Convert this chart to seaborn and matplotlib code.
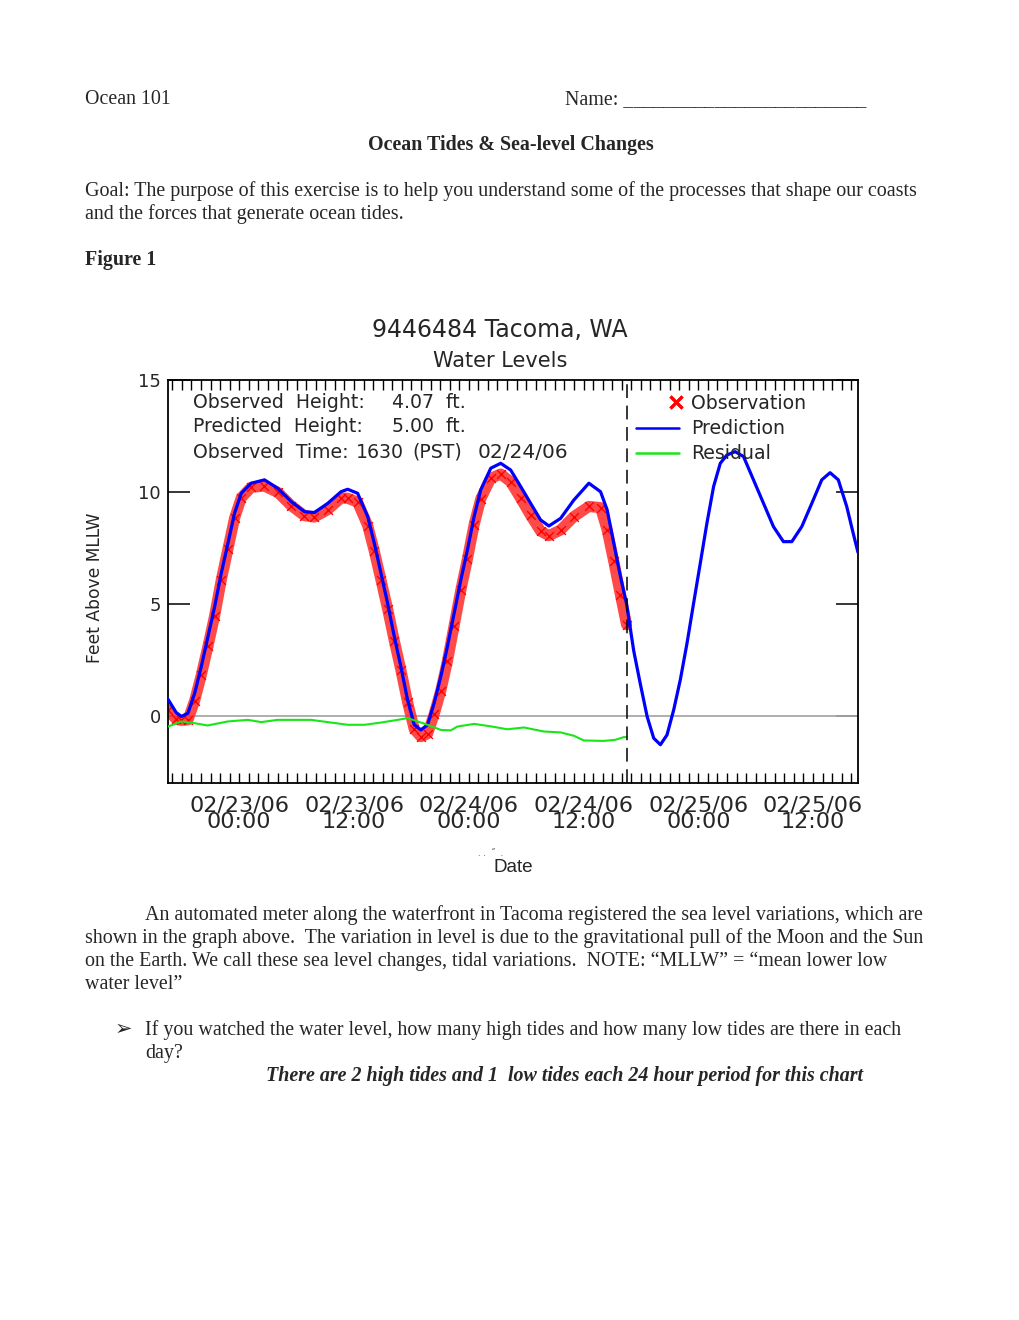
import matplotlib.pyplot as plt
from matplotlib.lines import Line2D
from matplotlib.legend_handler import HandlerLine2D
import seaborn as sns

# hours since 02/23/06 00:00 (PST), feet above MLLW
pred_hours = [-7.45, -6.6, -6.05, -5.36, -4.66, -3.97, -3.27, -2.57, -1.88, -1.18,
              -0.49, 0.21, 1.25, 2.64, 4.04, 5.43, 6.82, 7.86, 9.25, 10.64,
              11.34, 12.38, 13.43, 14.12, 14.82, 15.51, 16.21, 16.9, 17.6, 18.3,
              18.99, 19.69, 20.38, 21.08, 21.77, 22.47, 23.17, 23.86, 24.56, 25.25,
              26.3, 27.34, 28.38, 29.43, 30.47, 31.51, 32.38, 33.6, 34.99, 36.56,
              37.78, 38.47, 39.16, 39.86, 40.5, 41.25, 41.95, 42.65, 43.34, 44.04,
              44.73, 45.43, 46.12, 46.82, 47.51, 48.21, 48.9, 49.6, 50.3, 50.99,
              51.86, 52.73, 53.77, 54.82, 55.86, 56.9, 57.78, 58.82, 59.87, 60.91,
              61.78, 62.64, 63.52, 64.2, 64.7]
pred_ft = [0.74, 0.15, -0.03, 0.12, 1.01, 2.2, 3.54, 4.88, 6.37, 7.71,
           9.05, 9.94, 10.39, 10.54, 10.16, 9.57, 9.12, 9.08, 9.49, 10.01,
           10.12, 9.94, 8.9, 7.71, 6.37, 5.03, 3.54, 2.2, 0.71, -0.4,
           -0.63, -0.4, 0.57, 1.76, 3.1, 4.58, 6.07, 7.41, 8.9, 10.09,
           11.06, 11.28, 10.98, 10.24, 9.49, 8.75, 8.48, 8.82, 9.64, 10.39,
           10.01, 9.2, 7.71, 6.22, 5.0, 2.9, 1.4, -0.03, -1.0, -1.29,
           -0.85, 0.27, 1.61, 3.24, 5.03, 6.82, 8.6, 10.24, 11.28, 11.65,
           11.8, 11.58, 10.54, 9.49, 8.45, 7.78, 7.78, 8.45, 9.49, 10.54,
           10.86, 10.54, 9.35, 8.15, 7.3]

obs_hours = [-7.45, -6.6, -6.05, -5.36, -4.66, -3.97, -3.27, -2.57, -1.88, -1.18,
             -0.49, 0.21, 1.25, 2.64, 4.04, 5.43, 6.82, 7.86, 9.25, 10.64,
             11.34, 12.38, 13.43, 14.12, 14.82, 15.51, 16.21, 16.9, 17.6, 18.3,
             18.99, 19.69, 20.38, 21.08, 21.77, 22.47, 23.17, 23.86, 24.56, 25.25,
             26.3, 27.34, 28.38, 29.43, 30.47, 31.51, 32.38, 33.6, 34.99, 36.56,
             37.78, 38.47, 39.16, 39.86, 40.5]
obs_ft = [0.26, -0.15, -0.2, -0.18, 0.68, 1.82, 3.11, 4.48, 6.07, 7.46,
          8.83, 9.74, 10.21, 10.26, 9.98, 9.39, 8.94, 8.88, 9.21, 9.73,
          9.72, 9.54, 8.5, 7.36, 6.07, 4.78, 3.36, 2.05, 0.61, -0.6,
          -0.93, -0.8, 0.07, 1.13, 2.45, 4.03, 5.62, 7.01, 8.54, 9.69,
          10.61, 10.8, 10.45, 9.71, 8.95, 8.25, 8.05, 8.3, 8.9, 9.35,
          9.3, 8.3, 6.9, 5.4, 4.07]

resid_hours = [-7.45, -6.05, -4.66, -3.3, -1.18, 0.9, 2.3, 4.0, 7.5, 9.25,
               11.34, 13.1, 14.82, 16.56, 17.6, 18.65, 19.69, 21.08, 22.12, 22.8,
               24.56, 26.3, 28.04, 29.77, 31.86, 33.6, 34.99, 36.03, 38.12, 39.34,
               40.21, 40.5]
resid_ft = [-0.48, -0.25, -0.33, -0.43, -0.25, -0.18, -0.28, -0.18, -0.18, -0.28,
            -0.4, -0.4, -0.3, -0.18, -0.1, -0.25, -0.4, -0.63, -0.65, -0.48,
            -0.36, -0.47, -0.6, -0.52, -0.7, -0.74, -0.89, -1.1, -1.12, -1.07,
            -0.95, -0.95]

obs_time = 40.5
date_ticks = [0, 12, 24, 36, 48, 60]
date_labels = ["02/23/06\n00:00", "02/23/06\n12:00", "02/24/06\n00:00",
               "02/24/06\n12:00", "02/25/06\n00:00", "02/25/06\n12:00"]

W, H = 1020, 1320


def px(x, y):
    # pixel position on the page -> figure fraction
    return x / W, 1 - y / H


class MarkerAtEnd(HandlerLine2D):
    # legend marker sits at the right end of the handle, like the original
    def get_xdata(self, legend, xdescent, ydescent, width, height, fontsize):
        x_end = width - xdescent - 0.2 * fontsize
        return [x_end, x_end], [x_end, x_end]


sns.set_style("white")
plt.rcParams['font.family'] = ['DejaVu Sans']

fig = plt.figure(figsize=(10.2, 13.2), dpi=100)
fig.patch.set_facecolor('white')

# ---------- page text ----------
serif = ['Liberation Serif', 'DejaVu Serif']
fs_doc = 14.4
fig.text(*px(85, 104), "Ocean 101", family=serif, size=fs_doc, va='baseline')
fig.text(*px(565, 104), "Name: " + "_" * 24, family=serif, size=fs_doc, va='baseline')
fig.text(*px(511, 150), "Ocean Tides & Sea-level Changes", family=serif, size=fs_doc,
         weight='bold', ha='center', va='baseline')
fig.text(*px(85, 196), "Goal: The purpose of this exercise is to help you understand some of "
         "the processes that shape our coasts", family=serif, size=fs_doc, va='baseline')
fig.text(*px(85, 219), "and the forces that generate ocean tides.", family=serif,
         size=fs_doc, va='baseline')
fig.text(*px(85, 265), "Figure 1", family=serif, size=fs_doc, weight='bold', va='baseline')

para = [
    (145, "An automated meter along the waterfront in Tacoma registered the sea level variations, which are"),
    (85, "shown in the graph above.  The variation in level is due to the gravitational pull of the Moon and the Sun"),
    (85, "on the Earth. We call these sea level changes, tidal variations.  NOTE: \u201cMLLW\u201d = \u201cmean lower low"),
    (85, "water level\u201d"),
]
for i, (x0, line) in enumerate(para):
    fig.text(*px(x0, 920 + 23 * i), line, family=serif, size=fs_doc, va='baseline')

fig.text(*px(115, 1035), "\u27a2", family=['DejaVu Sans'], size=15, va='baseline')
fig.text(*px(145, 1035), "If you watched the water level, how many high tides and how many "
         "low tides are there in each", family=serif, size=fs_doc, va='baseline')
fig.text(*px(145, 1058), "day?", family=serif, size=fs_doc, va='baseline')
fig.text(*px(266, 1081), "There are 2 high tides and 1  low tides each 24 hour period for this chart",
         family=serif, size=fs_doc, weight='bold', style='italic', va='baseline')

# ---------- chart ----------
ax_l, ax_r, ax_t, ax_b = 168, 858, 380, 783
ax = fig.add_axes([ax_l / W, 1 - ax_b / H, (ax_r - ax_l) / W, (ax_b - ax_t) / H])

ax.axhline(0, color='#a8a8a8', linewidth=1.3, zorder=1)
ax.axvline(obs_time, color='black', linewidth=1.1, dashes=(9, 5), zorder=5)

sns.lineplot(x=obs_hours, y=obs_ft, ax=ax, color='#ff2a2a', linewidth=8,
             alpha=0.85, zorder=2)
sns.scatterplot(x=obs_hours, y=obs_ft, ax=ax, color='#ff0000', marker='x', s=40,
                linewidth=1.0, zorder=2)
sns.lineplot(x=pred_hours, y=pred_ft, ax=ax, color='#0000ff', linewidth=2.3, zorder=3)
sns.lineplot(x=resid_hours, y=resid_ft, ax=ax, color='#19e619', linewidth=1.5, zorder=4)

ax.set_xlim(-7.45, 64.7)
ax.set_ylim(-3, 15)
ax.set_xlabel("")
ax.set_ylabel("")

ax.set_xticks(date_ticks)
ax.set_xticklabels(date_labels, fontsize=16, linespacing=0.8)
ax.set_xticks(range(-7, 65), minor=True)
ax.set_yticks([0, 5, 10, 15])
ax.set_yticklabels(["0", "5", "10", "15"], fontsize=13)
ax.tick_params(axis='x', which='both', direction='in', top=True, bottom=True,
               length=7, width=1.0, pad=9, color='black')
ax.tick_params(axis='y', which='major', direction='in', left=True, right=True,
               length=16, width=1.1, pad=5, color='black')
for sp in ax.spines.values():
    sp.set_color('black')
    sp.set_linewidth(1.3)

fig.text(*px(500, 330), "9446484 Tacoma, WA", size=17, ha='center', va='center')
fig.text(*px(500, 361), "Water Levels", size=15, ha='center', va='center')
fig.text(*px(95, 588), "Feet Above MLLW", size=12.3, rotation=90, ha='center', va='center')
fig.text(*px(491, 853), ". .  \u02dd  .", size=6, ha='center', va='center', color='#333333')
fig.text(*px(513, 867), "Date", family=['Liberation Sans'], size=13.6,
         ha='center', va='center')

fs_info = 13.6
fig.text(*px(193, 402), "Observed  Height:", size=fs_info, va='center')
fig.text(*px(392, 402), "4.07  ft.", size=fs_info, va='center')
fig.text(*px(193, 427), "Predicted  Height:", size=fs_info, va='center')
fig.text(*px(392, 427), "5.00  ft.", size=fs_info, va='center')
fig.text(*px(193, 452), "Observed  Time:", size=fs_info, va='center')
fig.text(*px(356, 452), "1630", size=fs_info, va='center')
fig.text(*px(412, 452), "(PST)", size=fs_info, va='center')
fig.text(*px(478, 452), "02/24/06", size=14.5, va='center')

handles = [
    Line2D([], [], color='red', marker='x', linestyle='none', markersize=9,
           markeredgewidth=2.2),
    Line2D([], [], color='#0000ff', linewidth=1.8),
    Line2D([], [], color='#19e619', linewidth=1.8),
]
ax.legend(handles, ["Observation", "Prediction", "Residual"], loc='upper left',
          bbox_to_anchor=px(636, 394), bbox_transform=fig.transFigure,
          frameon=False, fontsize=fs_info, handlelength=2.3, handletextpad=0.6,
          labelspacing=0.33, borderpad=0.0, borderaxespad=0.0,
          handler_map={handles[0]: MarkerAtEnd(numpoints=2)})

fig.savefig("out.png", dpi=100, facecolor='white')
